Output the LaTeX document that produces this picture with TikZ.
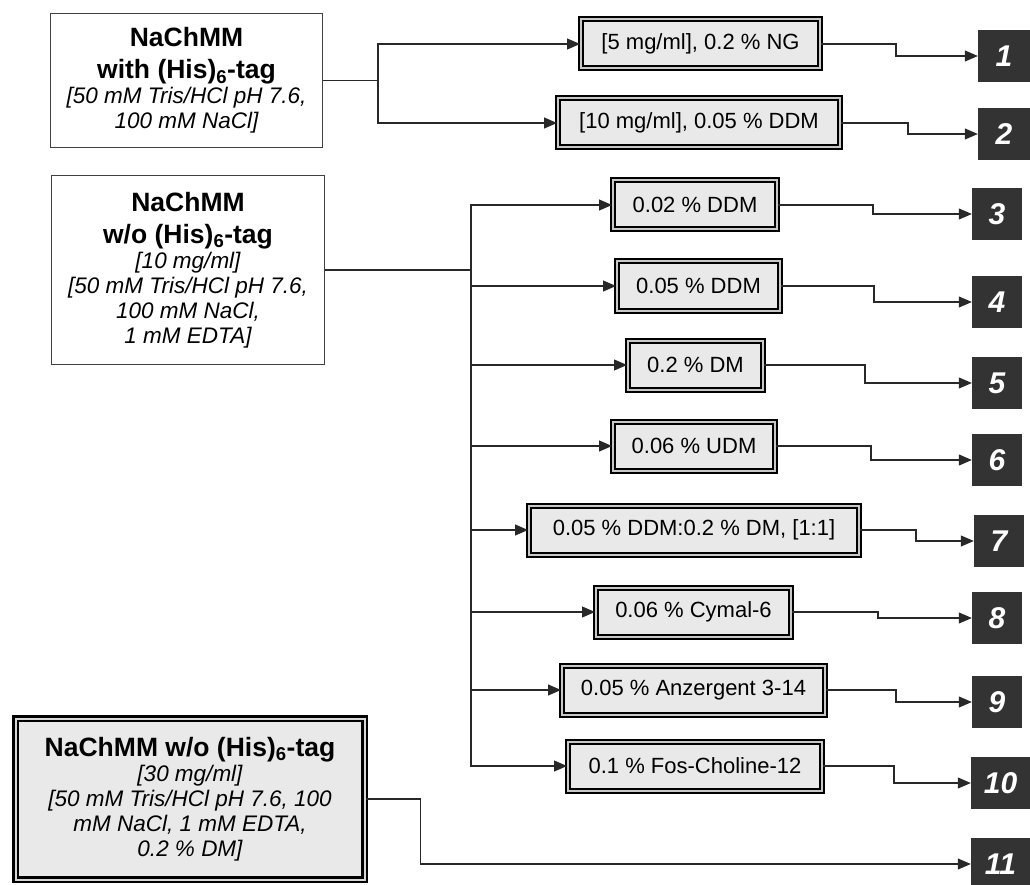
\documentclass[tikz,border=0pt]{standalone}
\usepackage{fontspec}
\setmainfont{Liberation Sans}
\usetikzlibrary{arrows.meta}
\newcommand{\srctitle}[1]{{\fontsize{26.5}{30}\selectfont\bfseries #1}}
\newcommand{\srcnote}[1]{{\fontsize{22.5}{25}\selectfont\itshape #1}}
\begin{document}
\begin{tikzpicture}[x=1pt,y=-1pt,
  srcbox/.style={draw={rgb,255:red,64;green,64;blue,64},line width=1.3pt,fill=white,align=center,inner sep=0pt,font=\fontsize{22.5}{25}\selectfont},
  srcboxgray/.style={draw=black,line width=2.5pt,double={rgb,255:red,215;green,215;blue,215},double distance=2pt,fill={rgb,255:red,233;green,233;blue,233},align=center,inner sep=0pt,font=\fontsize{22.5}{25}\selectfont},
  detbox/.style={draw=black,line width=2pt,double={rgb,255:red,200;green,200;blue,200},double distance=2pt,fill={rgb,255:red,233;green,233;blue,233},minimum height=49pt,inner sep=0pt,font=\fontsize{22}{24}\selectfont},
  numbox/.style={fill={rgb,255:red,51;green,51;blue,51},text=white,minimum width=50pt,minimum height=52pt,inner sep=0pt,font=\fontsize{30}{31}\selectfont\bfseries\itshape},
  wire/.style={draw={rgb,255:red,40;green,40;blue,40},line width=1.1pt},
  arr/.style={wire,-{Triangle[length=13pt,width=11pt]}}]
\path[use as bounding box,fill=white] (0,0) rectangle (1030,885);
% sources
\node[srcbox,minimum width=272pt,minimum height=134pt] (srcA) at (186.5,80.5) {\srctitle{NaChMM}\\[7pt]\srctitle{with (His)\textsubscript{6}-tag}\\\srcnote{[50 mM Tris/HCl pH 7.6,}\\\srcnote{100 mM NaCl]}};
\node[srcbox,minimum width=273pt,minimum height=189pt] (srcB) at (188,270) {\srctitle{NaChMM}\\[7pt]\srctitle{w/o (His)\textsubscript{6}-tag}\\\srcnote{[10 mg/ml]}\\\srcnote{[50 mM Tris/HCl pH 7.6,}\\\srcnote{100 mM NaCl,}\\\srcnote{1 mM EDTA]}};
\node[srcboxgray,minimum width=349pt,minimum height=161pt] (srcC) at (190,799) {\srctitle{NaChMM w/o (His)\textsubscript{6}-tag}\\\srcnote{[30 mg/ml]}\\\srcnote{[50 mM Tris/HCl pH 7.6, 100}\\\srcnote{mM NaCl, 1 mM EDTA,}\\\srcnote{0.2 \% DM]}};
% detergents
\node[detbox,minimum width=239pt] (det1) at (700.5,44) {[5 mg/ml], 0.2 \% NG};
\node[detbox,minimum width=282pt] (det2) at (699,123) {[10 mg/ml], 0.05 \% DDM};
\node[detbox,minimum width=164pt] (det3) at (695,205) {0.02 \% DDM};
\node[detbox,minimum width=163pt] (det4) at (698.5,286) {0.05 \% DDM};
\node[detbox,minimum width=135pt] (det5) at (695.5,365) {0.2 \% DM};
\node[detbox,minimum width=162pt] (det6) at (694,446) {0.06 \% UDM};
\node[detbox,minimum width=330pt] (det7) at (694,530) {0.05 \% DDM:0.2 \% DM, [1:1]};
\node[detbox,minimum width=195pt] (det8) at (693.5,612) {0.06 \% Cymal-6};
\node[detbox,minimum width=263pt] (det9) at (693.5,690) {0.05 \% Anzergent 3-14};
\node[detbox,minimum width=254pt] (det10) at (695,766) {0.1 \% Fos-Choline-12};
% sample numbers
\node[numbox,minimum width=52pt] (num1) at (1004,56) {1};
\node[numbox,minimum width=52pt] (num2) at (1004,134) {2};
\node[numbox] (num3) at (997,214) {3};
\node[numbox] (num4) at (997,302) {4};
\node[numbox] (num5) at (997,383) {5};
\node[numbox] (num6) at (997,460) {6};
\node[numbox] (num7) at (999,541) {7};
\node[numbox] (num8) at (997,618) {8};
\node[numbox] (num9) at (997,702) {9};
\node[numbox,minimum width=59pt] (num10) at (1000.5,783) {10};
\node[numbox,minimum width=59pt] (num11) at (1000.5,864) {11};
% junctions
\coordinate (jA) at (378,80.5);
\coordinate (jB) at (471,270);
\draw[wire] (srcA.east) -- (jA);
\draw[wire] (srcB.east) -- (jB);
\draw[arr] (jA) |- (det1.west);
\draw[arr] (jA) |- (det2.west);
\draw[arr] (jB) |- (det3.west);
\draw[arr] (jB) |- (det4.west);
\draw[arr] (jB) |- (det5.west);
\draw[arr] (jB) |- (det6.west);
\draw[arr] (jB) |- (det7.west);
\draw[arr] (jB) |- (det8.west);
\draw[arr] (jB) |- (det9.west);
\draw[arr] (jB) |- (det10.west);
% to samples
\draw[arr] (det1.east) -- ++(75,0) |- (num1.west);
\draw[arr] (det2.east) -- ++(67,0) |- (num2.west);
\draw[arr] (det3.east) -- ++(95,0) |- (num3.west);
\draw[arr] (det4.east) -- ++(93,0) |- (num4.west);
\draw[arr] (det5.east) -- ++(101,0) |- (num5.west);
\draw[arr] (det6.east) -- ++(95,0) |- (num6.west);
\draw[arr] (det7.east) -- ++(56,0) |- (num7.west);
\draw[arr] (det8.east) -- ++(86,0) |- (num8.west);
\draw[arr] (det9.east) -- ++(70,0) |- (num9.west);
\draw[arr] (det10.east) -- ++(71,0) |- (num10.west);
\draw[arr] (srcC.east) -- ++(55,0) |- (num11.west);
\end{tikzpicture}
\end{document}
